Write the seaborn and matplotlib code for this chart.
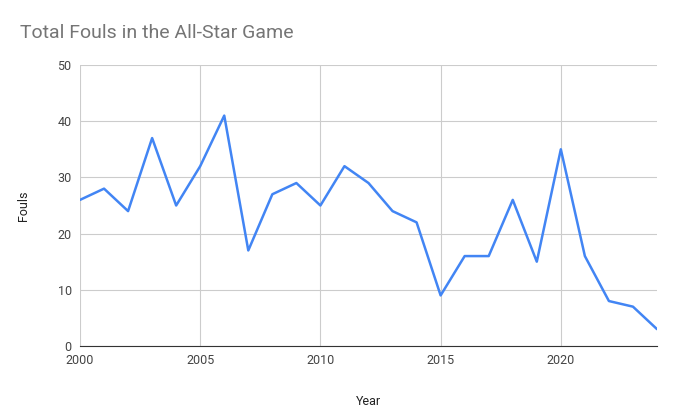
# Total fouls in the All-Star Game, line chart

import pandas as pd
import matplotlib.pyplot as plt
import seaborn as sns

# ---------- DATA ----------
years = list(range(2000, 2025))
fouls = [26, 28, 24, 37, 25, 32, 41, 17, 27, 29, 25, 32, 29, 24, 22,
         9, 16, 16, 26, 15, 35, 16, 8, 7, 3]
x_ticks = [2000, 2005, 2010, 2015, 2020]
y_ticks = [0, 10, 20, 30, 40, 50]

df = pd.DataFrame({'Year': years, 'Fouls': fouls})

# ---------- PLOT ----------
sns.set_style('white')
plt.rcParams['font.family'] = ['Roboto', 'DejaVu Sans']

fig = plt.figure(figsize=(6.78, 4.19), dpi=100)
ax = fig.add_axes([80 / 678, 1 - 346 / 419, 577 / 678, 281 / 419])

sns.lineplot(data=df, x='Year', y='Fouls', color='#4285F4', linewidth=1.8, ax=ax)

ax.set_xlim(2000, 2024)
ax.set_ylim(0, 50)
ax.set_xticks(x_ticks)
ax.set_yticks(y_ticks)
ax.grid(True, color='#cccccc', linewidth=0.8)
for side in ['top', 'right', 'left']:
    ax.spines[side].set_visible(False)
ax.spines['bottom'].set_color('#333333')
ax.tick_params(length=0, labelsize=9, colors='#444444', pad=6)
ax.set_xlabel('Year', fontsize=9, color='#222222', labelpad=20)
ax.set_ylabel('Fouls', fontsize=9, color='#222222', labelpad=20)

fig.text(20 / 678, 1 - 33 / 419, 'Total Fouls in the All-Star Game',
         fontsize=14, color='#757575', va='center')

fig.savefig('out.png', dpi=100)
